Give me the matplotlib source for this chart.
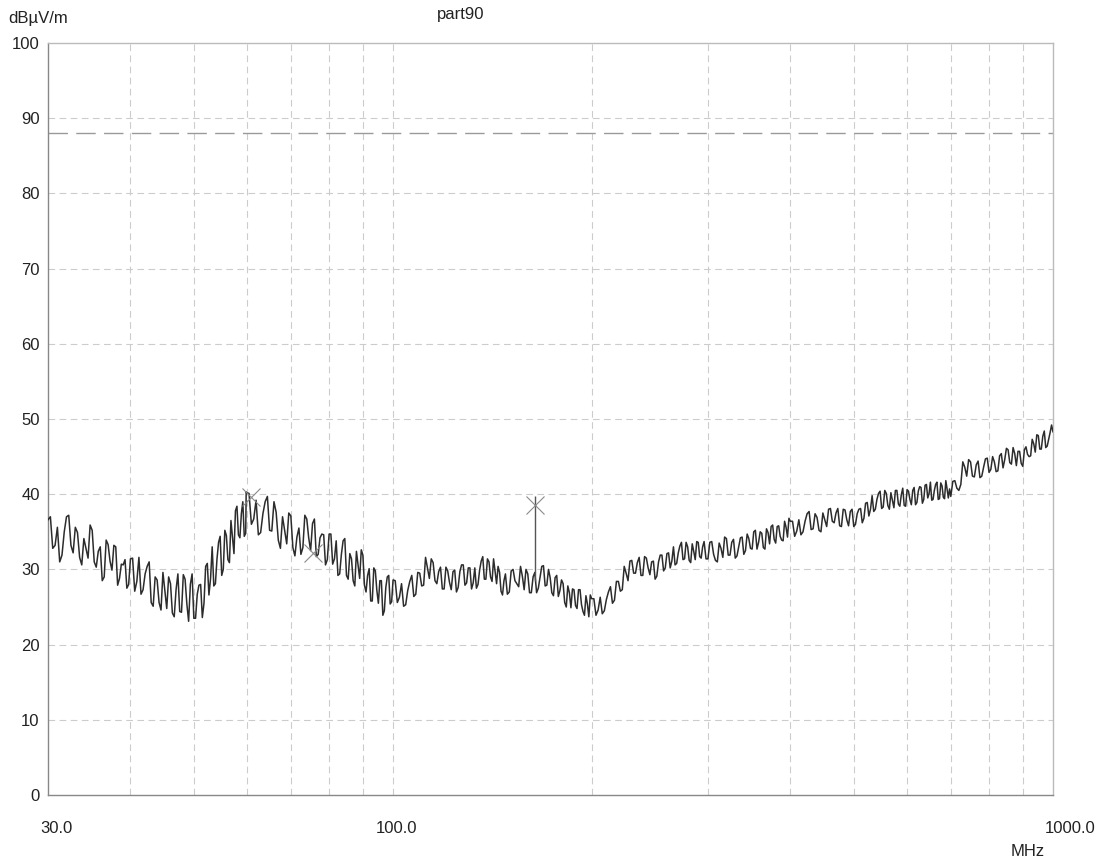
import matplotlib
matplotlib.use("Agg")
import matplotlib.pyplot as plt
import matplotlib.transforms as mtransforms
import pandas as pd

plt.rcParams["font.family"] = ["Liberation Sans", "DejaVu Sans"]

freq_mhz = [
    30, 30.5, 31, 31.5, 32, 32.5, 33, 33.5, 34, 34.5, 35, 35.5, 36, 36.5, 37, 37.5, 38, 38.5, 39, 39.5,
    40, 40.6, 41.2, 41.8, 42.4, 43.0, 43.6, 44.2, 44.8, 45.4, 46.0, 46.6, 47.2, 47.8, 48.4, 49.0, 49.6,
    50.2, 50.8, 51.4, 52.0, 52.6, 53.2, 53.8, 54.4, 55.0, 55.6, 56.2, 56.8, 57.4, 58.0, 58.6, 59.2, 59.8,
    60, 61, 62, 63, 64, 65, 66, 67, 68, 69, 70, 71, 72, 73, 74, 75, 76, 77, 78, 79,
    80, 81, 82, 83, 84, 85, 86, 87, 88, 89, 90, 91, 92, 93, 94, 95, 96, 97, 98, 99,
    100, 101.5, 103, 104.5, 106, 107.5, 109, 110.5, 112, 113.5, 115, 116.5, 118, 119.5, 121, 122.5, 124,
    125.5, 127, 128.5, 130, 131.5, 133, 134.5, 136, 137.5, 139, 140.5, 142, 143.5, 145, 146.5, 148,
    150, 152, 154, 156, 158, 160, 162, 164, 166, 168, 170, 172, 174, 176, 178, 180, 182, 184, 186, 188,
    190, 192, 194, 196, 198,
    200, 203, 206, 209, 212, 215, 218, 221, 224, 227, 230, 233, 236, 239, 242, 245, 248, 251, 254, 257,
    260, 263, 266, 269, 272, 275, 278, 281, 284, 287, 290, 293, 296,
    300, 304, 308, 312, 316, 320, 324, 328, 332, 336, 340, 344, 348, 352, 356, 360, 364, 368, 372, 376,
    380, 384, 388, 392, 396,
    400, 406, 412, 418, 424, 430, 436, 442, 448, 454, 460, 466, 472, 478, 484, 490, 496, 502, 508, 514,
    520, 526, 532, 538, 544, 550, 556, 562, 568, 574, 580, 586, 592, 598, 604, 610, 616, 622, 628, 634,
    640, 646, 652, 658, 664, 670, 676, 682, 688, 694,
    700, 710, 720, 730, 740, 750, 760, 770, 780, 790, 800, 810, 820, 830, 840, 850, 860, 870, 880, 890,
    900, 910, 920, 930, 940, 950, 960, 970, 980, 990, 1000,
]
level_dbuv = [
    36.6, 32.8, 35.6, 31.9, 37.0, 33.2, 35.6, 31.6, 34.1, 31.5, 35.2, 30.3, 33.0, 29.0, 33.3, 29.9, 33.0,
    28.8, 30.6, 27.5,
    31.4, 27.1, 31.6, 27.3, 30.4, 25.6, 29.0, 25.6, 29.6, 24.8, 28.1, 23.7, 29.4, 24.3, 28.7, 23.1, 29.4,
    23.5, 27.9, 23.6, 30.4, 26.6, 33.0, 28.1, 33.6, 29.2, 35.2, 31.3, 36.5, 32.1, 38.4, 34.2, 39.0, 34.8,
    40.2, 36.0, 39.2, 34.9, 39.0, 35.2, 39.0, 33.9, 37.0, 33.4, 37.1, 31.8, 35.5, 32.9, 36.7, 32.5, 36.7,
    32.0, 34.7, 30.6, 34.7, 30.7, 33.8, 29.4, 33.8, 29.2, 32.1, 28.5, 32.4, 28.8, 31.9, 27.0, 30.1, 25.8,
    29.8, 25.5, 28.5, 24.5, 29.0, 25.4,
    28.6, 25.6, 28.1, 25.3, 28.4, 26.4, 29.6, 27.8, 31.6, 28.8, 30.9, 28.1, 30.3, 27.4, 29.8, 27.3, 29.9,
    27.6, 30.6, 27.9, 30.2, 27.4, 30.2, 28.0, 31.1, 28.7, 31.4, 29.0, 31.4, 28.1, 29.6, 26.6, 29.4,
    27.0, 30.0, 28.1, 30.4, 27.3, 29.4, 26.9, 29.6, 27.5, 30.4, 27.8, 30.0, 26.9, 28.9, 26.4, 28.6, 25.6,
    27.8, 24.9, 27.3, 24.8, 27.3, 24.4, 26.5, 23.7,
    26.1, 23.9, 26.3, 24.5, 27.0, 25.5, 28.4, 27.1, 30.4, 28.5, 31.2, 29.5, 31.6, 29.2, 31.5, 29.3, 31.1,
    29.1, 31.9, 29.8, 32.1, 30.2, 33.0, 30.8, 33.1, 31.3, 33.6, 31.2, 33.4, 31.3, 33.6, 31.5, 33.7,
    31.4, 33.7, 31.2, 33.5, 31.6, 34.1, 31.9, 34.0, 31.8, 34.2, 32.0, 34.7, 32.8, 35.0, 32.7, 35.0, 32.9,
    35.4, 33.4, 35.9, 33.5, 35.8, 33.9, 36.4, 34.3,
    36.4, 34.4, 36.6, 35.0, 37.4, 35.3, 37.4, 35.2, 37.5, 35.7, 38.1, 36.2, 38.1, 35.7, 37.9, 35.8, 38.0,
    36.0, 38.0, 36.2, 38.8, 37.1, 39.8, 38.0, 40.1, 38.1, 40.5, 38.5, 40.2, 38.2, 40.5, 38.4, 40.8, 38.4,
    40.4, 38.6, 40.9, 38.9, 41.0, 38.8, 41.2, 39.5, 41.6, 39.3, 41.3, 39.3, 41.5, 39.6, 41.8, 39.5,
    39.7, 41.8, 40.5, 44.3, 42.4, 44.3, 42.3, 44.4, 42.4, 44.7, 42.9, 45.0, 43.0, 45.1, 43.5, 46.1, 44.2,
    46.2, 43.8, 45.7, 43.7, 46.3, 45.0, 47.3, 45.6, 47.8, 46.0, 48.4, 46.4, 48.2, 48.3,
]

# in-between sweep points
freq_mid = [
    30.25, 30.75, 31.25, 31.75, 32.25, 32.75, 33.25, 33.75, 34.25, 34.75, 35.25, 35.75, 36.25, 36.75,
    37.25, 37.75, 38.25, 38.75, 39.25, 39.75,
    40.3, 40.9, 41.5, 42.1, 42.7, 43.3, 43.9, 44.5, 45.1, 45.7, 46.3, 46.9, 47.5, 48.1, 48.7, 49.3, 49.9,
    50.5, 51.1, 51.7, 52.3, 52.9, 53.5, 54.1, 54.7, 55.3, 55.9, 56.5, 57.1, 57.7, 58.3, 58.9, 59.5, 59.9,
    60.5, 61.5, 62.5, 63.5, 64.5, 65.5, 66.5, 67.5, 68.5, 69.5, 70.5, 71.5, 72.5, 73.5, 74.5, 75.5, 76.5,
    77.5, 78.5, 79.5, 80.5, 81.5, 82.5, 83.5, 84.5, 85.5, 86.5, 87.5, 88.5, 89.5, 90.5, 91.5, 92.5, 93.5,
    94.5, 95.5, 96.5, 97.5, 98.5, 99.5,
    100.75, 102.25, 103.75, 105.25, 106.75, 108.25, 109.75, 111.25, 112.75, 114.25, 115.75, 117.25,
    118.75, 120.25, 121.75, 123.25, 124.75, 126.25, 127.75, 129.25, 130.75, 132.25, 133.75, 135.25,
    136.75, 138.25, 139.75, 141.25, 142.75, 144.25, 145.75, 147.25, 149,
    151, 153, 155, 157, 159, 161, 163, 165, 167, 169, 171, 173, 175, 177, 179, 181, 183, 185, 187, 189,
    191, 193, 195, 197, 199,
    201.5, 204.5, 207.5, 210.5, 213.5, 216.5, 219.5, 222.5, 225.5, 228.5, 231.5, 234.5, 237.5, 240.5,
    243.5, 246.5, 249.5, 252.5, 255.5, 258.5, 261.5, 264.5, 267.5, 270.5, 273.5, 276.5, 279.5, 282.5,
    285.5, 288.5, 291.5, 294.5, 298,
    302, 306, 310, 314, 318, 322, 326, 330, 334, 338, 342, 346, 350, 354, 358, 362, 366, 370, 374, 378,
    382, 386, 390, 394, 398,
    403, 409, 415, 421, 427, 433, 439, 445, 451, 457, 463, 469, 475, 481, 487, 493, 499, 505, 511, 517,
    523, 529, 535, 541, 547, 553, 559, 565, 571, 577, 583, 589, 595, 601, 607, 613, 619, 625, 631, 637,
    643, 649, 655, 661, 667, 673, 679, 685, 691, 697,
    705, 715, 725, 735, 745, 755, 765, 775, 785, 795, 805, 815, 825, 835, 845, 855, 865, 875, 885, 895,
    905, 915, 925, 935, 945, 955, 965, 975, 985, 995,
]
level_mid = [
    37.0, 33.2, 31.0, 35.0, 37.2, 32.2, 34.9, 30.6, 32.8, 35.9, 31.0, 32.4, 28.5, 33.9, 31.1, 33.2, 27.9,
    30.7, 31.3, 28.0,
    31.5, 28.4, 26.7, 29.4, 31.0, 25.1, 28.6, 24.6, 27.2, 29.0, 24.2, 27.3, 24.4, 29.3, 25.4, 28.0, 23.5,
    26.7, 28.0, 25.5, 30.8, 28.8, 27.8, 31.4, 34.4, 30.0, 34.5, 30.9, 34.3, 37.8, 34.6, 37.4, 34.4, 40.3,
    40.1, 36.7, 34.6, 37.4, 39.7, 35.1, 37.6, 32.8, 35.2, 37.5, 32.9, 34.3, 32.0, 37.2, 34.2, 36.1, 31.7,
    34.2, 34.6, 31.3, 34.7, 31.4, 29.2, 32.0, 34.1, 28.7, 31.4, 27.8, 30.6, 32.6, 27.9, 29.2, 25.8, 30.2,
    27.2, 28.5, 23.9, 27.6, 29.2, 25.7,
    28.5, 26.3, 25.1, 27.2, 29.2, 26.7, 29.5, 27.9, 30.2, 31.4, 28.5, 29.7, 27.4, 30.3, 28.3, 29.7, 27.0,
    29.7, 30.6, 28.2, 30.2, 28.2, 27.5, 29.9, 31.7, 28.7, 31.0, 28.4, 29.8, 30.4, 27.1, 28.5, 26.7,
    29.8, 28.5, 27.7, 29.1, 30.0, 26.9, 29.0, 26.9, 29.0, 30.5, 27.9, 28.9, 26.5, 29.2, 27.2, 28.1, 25.0,
    26.9, 27.4, 25.2, 27.3, 25.3, 23.9, 25.4, 26.6,
    26.1, 24.6, 24.1, 26.0, 27.7, 25.9, 28.4, 27.3, 29.5, 31.1, 29.5, 30.9, 29.2, 31.7, 30.2, 31.0, 28.7,
    31.0, 31.9, 30.2, 32.2, 31.1, 30.6, 32.2, 33.6, 31.4, 33.0, 30.9, 32.4, 33.7, 31.7, 33.0, 31.4,
    33.6, 32.0, 31.0, 32.8, 34.3, 31.9, 33.6, 31.5, 33.0, 34.3, 32.5, 34.1, 32.7, 35.2, 33.6, 34.8, 32.7,
    34.9, 35.7, 34.0, 35.7, 34.4, 33.8, 35.6, 36.8,
    36.4, 35.1, 34.6, 36.4, 37.7, 35.4, 36.9, 35.0, 36.6, 38.0, 36.4, 37.5, 35.8, 38.0, 36.6, 37.7, 35.7,
    37.4, 38.1, 36.8, 38.9, 38.0, 37.7, 39.3, 40.4, 38.3, 40.1, 38.0, 39.2, 40.5, 38.7, 39.9, 38.5, 40.6,
    39.3, 40.5, 38.6, 40.4, 40.9, 39.3, 41.3, 40.1, 39.2, 40.5, 41.6, 39.4, 41.1, 39.4, 40.7, 40.7,
    41.7, 40.8, 41.3, 43.6, 44.6, 42.4, 43.9, 42.2, 43.6, 44.8, 43.3, 44.3, 43.1, 45.4, 44.6, 45.9, 44.0,
    45.4, 45.7, 44.1, 45.9, 45.3, 45.1, 46.7, 47.9, 46.0, 47.7, 46.2, 47.3, 49.2,
]

# limit line and marked peaks
limit_level = 88
marker_freqs = [61, 75.5, 164]
marker_levels = [39.6, 32.2, 38.6]
spike_freq = 164
spike_bottom = 28.4
spike_top = 39.8

x_ticks = [30, 100, 1000]
x_labels = ["30.0", "100.0", "1000.0"]
y_ticks = list(range(0, 101, 10))

trace = pd.concat([pd.Series(level_dbuv, index=freq_mhz),
                   pd.Series(level_mid, index=freq_mid)]).sort_index()

fig = plt.figure(figsize=(11.01, 8.64), dpi=100)
ax = fig.add_axes([48 / 1101, 1 - 795 / 864, 1005 / 1101, 752 / 864])
ax.set_xscale("log")
ax.set_xlim(30, 1000)
ax.set_ylim(0, 100)

# grid
grid_kw = dict(color="#cccccc", linewidth=0.8, linestyle=(0, (6, 4)))
for f in [40, 50, 60, 70, 80, 90, 100, 200, 300, 400, 500, 600, 700, 800, 900]:
    ax.axvline(f, **grid_kw, zorder=1)
for v in y_ticks[1:-1]:
    ax.axhline(v, **grid_kw, zorder=1)

ax.axhline(limit_level, color="#9a9a9a", linewidth=1.0, linestyle=(0, (14, 6)), zorder=2)

ax.plot(trace.index, trace.values, color="#2c2c2c", linewidth=1.1, zorder=3)
ax.vlines(spike_freq, spike_bottom, spike_top, color="#555555", linewidth=1.0, zorder=3)
ax.plot(marker_freqs, marker_levels, linestyle="none", marker="x", markersize=13,
        markeredgewidth=0.8, color="#8a8a8a", zorder=4)

for side in ["left", "bottom"]:
    ax.spines[side].set_color("#888888")
for side in ["top", "right"]:
    ax.spines[side].set_color("#bbbbbb")
for s in ax.spines.values():
    s.set_linewidth(1.0)

ax.set_xticks(x_ticks)
ax.set_xticklabels(x_labels)
ax.xaxis.set_minor_locator(matplotlib.ticker.NullLocator())
ax.set_yticks(y_ticks)
ax.tick_params(axis="both", length=0, labelsize=12, colors="#222222")
ax.tick_params(axis="x", pad=19)
ax.tick_params(axis="y", pad=6)

# nudge x labels like the printout
shifts = [8, 3, 17]
for lab, dx in zip(ax.get_xticklabels(), shifts):
    lab.set_transform(lab.get_transform() + mtransforms.ScaledTranslation(dx / 100, 0, fig.dpi_scale_trans))

fig.text(8 / 1101, 1 - 18 / 864, "dBµV/m", fontsize=12, va="center", ha="left", color="#222222")
fig.text(437 / 1101, 1 - 14 / 864, "part90", fontsize=12, va="center", ha="left", color="#222222")
fig.text(1028 / 1101, 1 - 852 / 864, "MHz", fontsize=12, va="center", ha="center", color="#222222")

fig.savefig("out.png", dpi=100)
